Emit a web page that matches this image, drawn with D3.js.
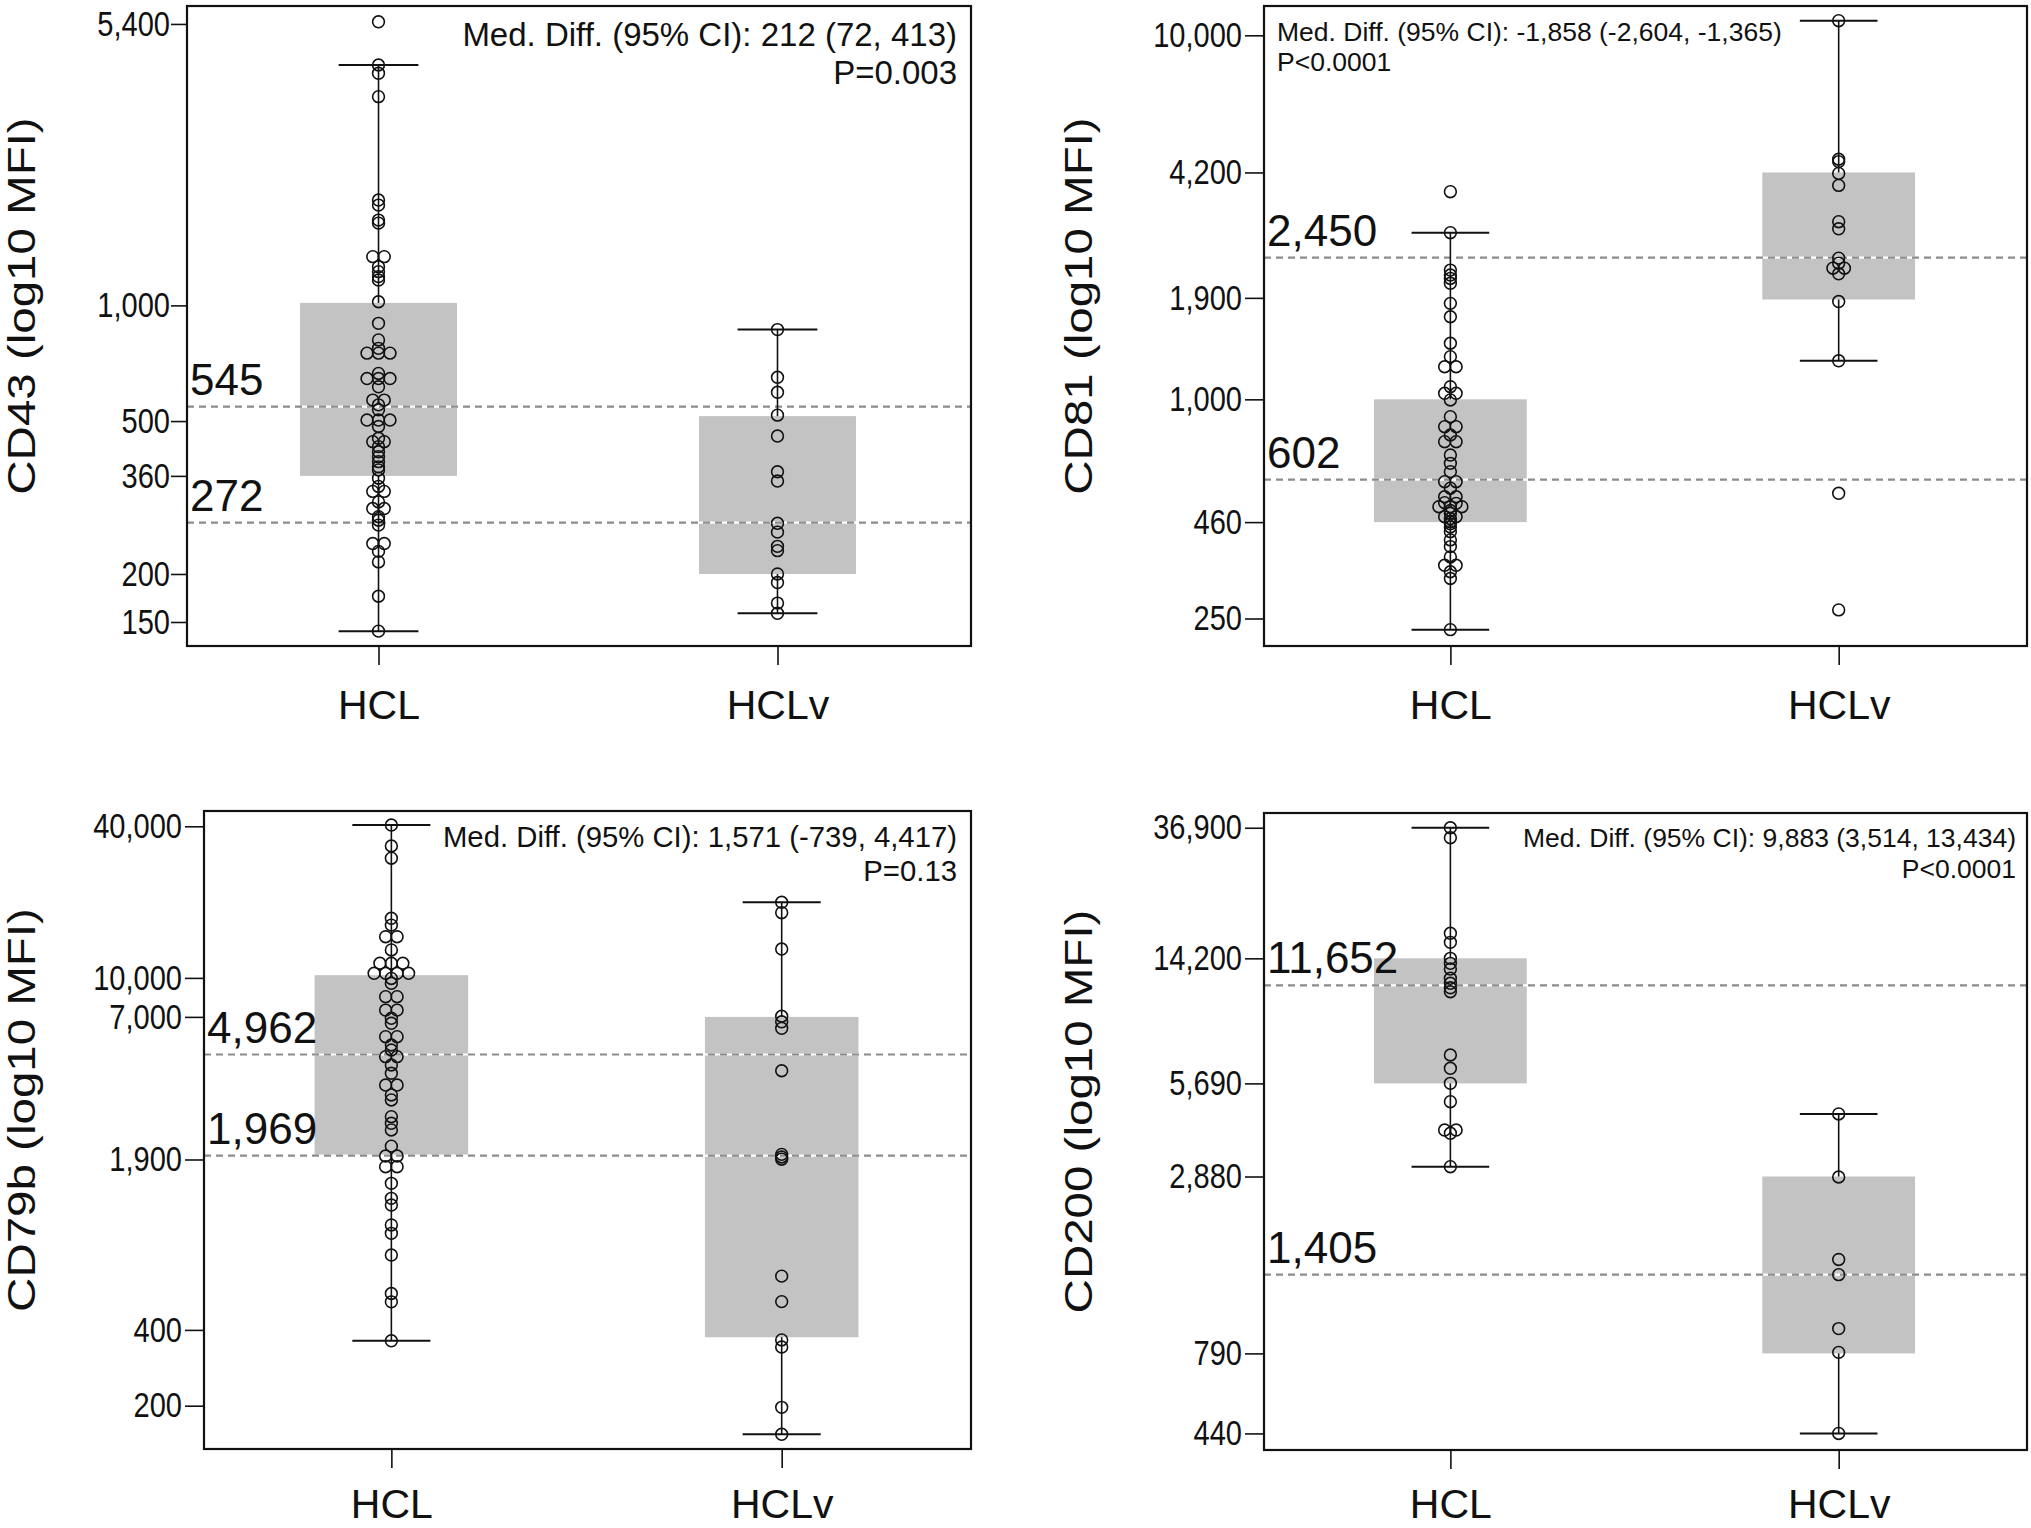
<!DOCTYPE html>
<html><head><meta charset="utf-8">
<script src="https://cdn.jsdelivr.net/npm/d3@7"></script>
<style>
body{margin:0;background:#fff;}
svg text{font-family:"Liberation Sans",Arial,sans-serif;fill:#111;}
</style>
</head><body><svg id="chart" width="2031" height="1528"></svg>
<script>
// ---------------- DATA ----------------
const categories = ["HCL", "HCLv"];
const markers = ["CD43", "CD81", "CD79b", "CD200"];
const yTitles = ["CD43 (log10 MFI)", "CD81 (log10 MFI)", "CD79b (log10 MFI)", "CD200 (log10 MFI)"];

const CD43_HCL = [5470, 4222, 4018, 3493, 1880, 1824, 1667, 1637, 1339, 1339, 1261, 1224, 1188, 1164, 1022, 898, 813, 773, 751, 751, 751, 665, 645, 645, 645, 614, 567, 567, 551, 535, 503, 503, 503, 484, 451, 442, 442, 429, 416, 404, 392, 380, 373, 355, 338, 328, 328, 308, 296, 296, 282, 276, 268, 240, 240, 229, 215, 175, 142];
const CD43_HCLv = [865, 650, 594, 518, 457, 369, 349, 271, 257, 236, 230, 200, 190, 168, 158];

const CD81_HCL = [3718, 2869, 2265, 2195, 2149, 2083, 1835, 1686, 1426, 1310, 1229, 1229, 1083, 1039, 1039, 996, 896, 841, 841, 798, 765, 765, 703, 667, 633, 594, 594, 570, 540, 540, 520, 518, 507, 507, 507, 495, 486, 476, 476, 470, 461, 455, 446, 433, 411, 394, 369, 350, 350, 336, 322, 233];
const CD81_HCLv = [10966, 4566, 4498, 4175, 3870, 3076, 2941, 2443, 2366, 2292, 2292, 2212, 1856, 1276, 552, 264];

const CD79b_HCL = [40460, 33400, 29870, 17240, 16200, 14570, 14570, 12910, 11430, 11430, 11430, 10430, 10430, 10430, 10430, 9950, 9510, 8420, 8420, 7450, 7450, 6910, 6600, 5840, 5840, 5414, 5172, 4866, 4866, 4510, 4180, 3754, 3754, 3428, 3275, 2811, 2645, 2489, 2147, 1962, 1962, 1779, 1779, 1528, 1332, 1253, 1044, 967, 793, 558, 517, 362];
const CD79b_HCLv = [19960, 18150, 13020, 7040, 6693, 6305, 4277, 1991, 1944, 1905, 654, 518, 365, 342, 197, 154];

const CD200_HCL = [36900, 34300, 17050, 15960, 14200, 13690, 13130, 12270, 11830, 11450, 11120, 7003, 6354, 5692, 4977, 4046, 4046, 3950, 3094];
const CD200_HCLv = [4550, 2870, 1570, 1405, 947, 796, 440];

// box statistics [HCL, HCLv]
const q1 = {CD43: [360, 200], CD81: [460, 1880], CD79b: [1980, 374], CD200: [5690, 790]};
const q3 = {CD43: [1015, 515], CD81: [1000, 4200], CD79b: [10250, 7000], CD200: [14200, 2880]};
const whiskerLow = {CD43: [142, 158], CD81: [233, 1276], CD79b: [362, 154], CD200: [3094, 440]};
const whiskerHigh = {CD43: [4222, 865], CD81: [2869, 10966], CD79b: [40460, 19960], CD200: [36900, 4550]};
const medians = {CD43: [545, 272], CD81: [602, 2450], CD79b: [4962, 1969], CD200: [11652, 1405]};

// y tick labels
const ticksCD43 = [150, 200, 360, 500, 1000, 5400];
const ticksCD81 = [250, 460, 1000, 1900, 4200, 10000];
const ticksCD79b = [200, 400, 1900, 7000, 10000, 40000];
const ticksCD200 = [440, 790, 2880, 5690, 14200, 36900];

// axis extents
const yExtentCD43 = [129.9, 6013];
const yExtentCD81 = [210.1, 12036];
const yExtentCD79b = [134.6, 46000];
const yExtentCD200 = [389.8, 41100];

const annotCD43 = ["Med. Diff. (95% CI): 212 (72, 413)", "P=0.003"];
const annotCD81 = ["Med. Diff. (95% CI): -1,858 (-2,604, -1,365)", "P<0.0001"];
const annotCD79b = ["Med. Diff. (95% CI): 1,571 (-739, 4,417)", "P=0.13"];
const annotCD200 = ["Med. Diff. (95% CI): 9,883 (3,514, 13,434)", "P<0.0001"];

// ---------------- LAYOUT ----------------
const panels = [
  {m: "CD43", groups: [CD43_HCL, CD43_HCLv], ticks: ticksCD43, ext: yExtentCD43, annot: annotCD43,
   left: 187, right: 971, top: 6, bottom: 646, titleX: 35, aAnchor: "end", aX: 957, aY: [46, 84], aSize: 33, catPad: 25, tickLen: 16, tickPad: 1},
  {m: "CD81", groups: [CD81_HCL, CD81_HCLv], ticks: ticksCD81, ext: yExtentCD81, annot: annotCD81,
   left: 1264, right: 2027, top: 6, bottom: 646, titleX: 1092, aAnchor: "start", aX: 1277, aY: [41, 71], aSize: 26.5, catPad: 25, tickLen: 19, tickPad: 3},
  {m: "CD79b", groups: [CD79b_HCL, CD79b_HCLv], ticks: ticksCD79b, ext: yExtentCD79b, annot: annotCD79b,
   left: 204, right: 971, top: 811, bottom: 1449, titleX: 35, aAnchor: "end", aX: 957, aY: [847, 881], aSize: 29.3, catPad: 21, tickLen: 19, tickPad: 3},
  {m: "CD200", groups: [CD200_HCL, CD200_HCLv], ticks: ticksCD200, ext: yExtentCD200, annot: annotCD200,
   left: 1264, right: 2027, top: 813, bottom: 1450, titleX: 1092, aAnchor: "end", aX: 2016, aY: [847, 878], aSize: 26.5, catPad: 20, tickLen: 19, tickPad: 3}
];

const svg = d3.select("#chart");
svg.append("rect").attr("width", 2031).attr("height", 1528).attr("fill", "#fff");
const fmt = d3.format(",");

function swarm(values, y) {
  const pts = values.map(v => ({v, py: y(v)})).sort((a, b) => a.py - b.py);
  const out = [];
  let i = 0;
  while (i < pts.length) {
    let j = i;
    while (j + 1 < pts.length && Math.abs(pts[j + 1].py - pts[i].py) < 1.5) j++;
    const n = j - i + 1;
    for (let k = 0; k < n; k++) out.push({...pts[i + k], dx: (k - (n - 1) / 2) * 11.5});
    i = j + 1;
  }
  return out;
}

panels.forEach((p, pi) => {
  const g = svg.append("g");
  const x = d3.scaleLinear().domain([0.52, 2.485]).range([p.left, p.right]);
  const y = d3.scaleLog().domain(p.ext).range([p.bottom, p.top]);
  const unit = x(2) - x(1);
  const boxHalf = 0.1967 * unit, capHalf = 0.1 * unit;

  // boxes
  categories.forEach((c, ci) => {
    const cx = x(ci + 1);
    g.append("rect").attr("x", cx - boxHalf).attr("width", 2 * boxHalf)
      .attr("y", y(q3[p.m][ci])).attr("height", y(q1[p.m][ci]) - y(q3[p.m][ci]))
      .attr("fill", "#c3c3c3");
  });

  // median dashed lines
  medians[p.m].forEach(md => {
    g.append("line").attr("x1", p.left).attr("x2", p.right).attr("y1", y(md)).attr("y2", y(md))
      .attr("stroke", "#fff").attr("stroke-width", 2.2);
    g.append("line").attr("x1", p.left).attr("x2", p.right).attr("y1", y(md)).attr("y2", y(md))
      .attr("stroke", "#8c8c8c").attr("stroke-width", 2.2).attr("stroke-dasharray", "7,5");
    g.append("text").attr("x", p.left + 3).attr("y", y(md) - 12)
      .attr("font-size", 44).text(fmt(md));
  });

  // whiskers
  categories.forEach((c, ci) => {
    const cx = x(ci + 1);
    const lo = whiskerLow[p.m][ci], hi = whiskerHigh[p.m][ci];
    const b1 = q1[p.m][ci], b3 = q3[p.m][ci];
    if (hi > b3) g.append("line").attr("x1", cx).attr("x2", cx).attr("y1", y(hi)).attr("y2", y(b3)).attr("stroke", "#111").attr("stroke-width", 1.6);
    if (lo < b1) g.append("line").attr("x1", cx).attr("x2", cx).attr("y1", y(lo)).attr("y2", y(b1)).attr("stroke", "#111").attr("stroke-width", 1.6);
    [lo, hi].forEach(v => g.append("line").attr("x1", cx - capHalf).attr("x2", cx + capHalf)
      .attr("y1", y(v)).attr("y2", y(v)).attr("stroke", "#111").attr("stroke-width", 2));
  });

  // points
  p.groups.forEach((vals, ci) => {
    const cx = x(ci + 1);
    g.selectAll(null).data(swarm(vals, y)).enter().append("circle")
      .attr("cx", d => cx + d.dx).attr("cy", d => d.py).attr("r", 5.9)
      .attr("fill", "none").attr("stroke", "#111").attr("stroke-width", 1.6);
  });

  // frame
  g.append("rect").attr("x", p.left).attr("y", p.top).attr("width", p.right - p.left).attr("height", p.bottom - p.top)
    .attr("fill", "none").attr("stroke", "#111").attr("stroke-width", 2.2);

  // y axis
  const ya = g.append("g").attr("transform", `translate(${p.left},0)`)
    .call(d3.axisLeft(y).tickValues(p.ticks).tickFormat(fmt).tickSize(p.tickLen).tickPadding(p.tickPad));
  ya.select(".domain").remove();
  ya.selectAll("line").attr("stroke", "#111").attr("stroke-width", 1.6);
  ya.selectAll("text").each(function() {
    const t = d3.select(this);
    const xx = +t.attr("x");
    t.attr("x", null).attr("transform", `translate(${xx},0) scale(0.83,1)`);
  }).attr("font-size", 35).attr("fill", "#111").attr("font-family", null);

  // x axis
  const xa = g.append("g").attr("transform", `translate(0,${p.bottom})`)
    .call(d3.axisBottom(x).tickValues([1, 2]).tickFormat(d => categories[d - 1]).tickSize(19).tickPadding(p.catPad));
  xa.select(".domain").remove();
  xa.selectAll("line").attr("stroke", "#111").attr("stroke-width", 1.6);
  xa.selectAll("text").attr("font-size", 41).attr("fill", "#111").attr("font-family", null);

  // y title
  g.append("text").attr("transform", `translate(${p.titleX},${(p.top + p.bottom) / 2 - 20}) rotate(-90) scale(1.25,1)`)
    .attr("text-anchor", "middle").attr("font-size", 38).text(yTitles[pi]);

  // annotation
  p.annot.forEach((t, k) => {
    g.append("text").attr("x", p.aX).attr("y", p.aY[k]).attr("text-anchor", p.aAnchor)
      .attr("font-size", p.aSize).text(t);
  });
});
</script></body></html>
